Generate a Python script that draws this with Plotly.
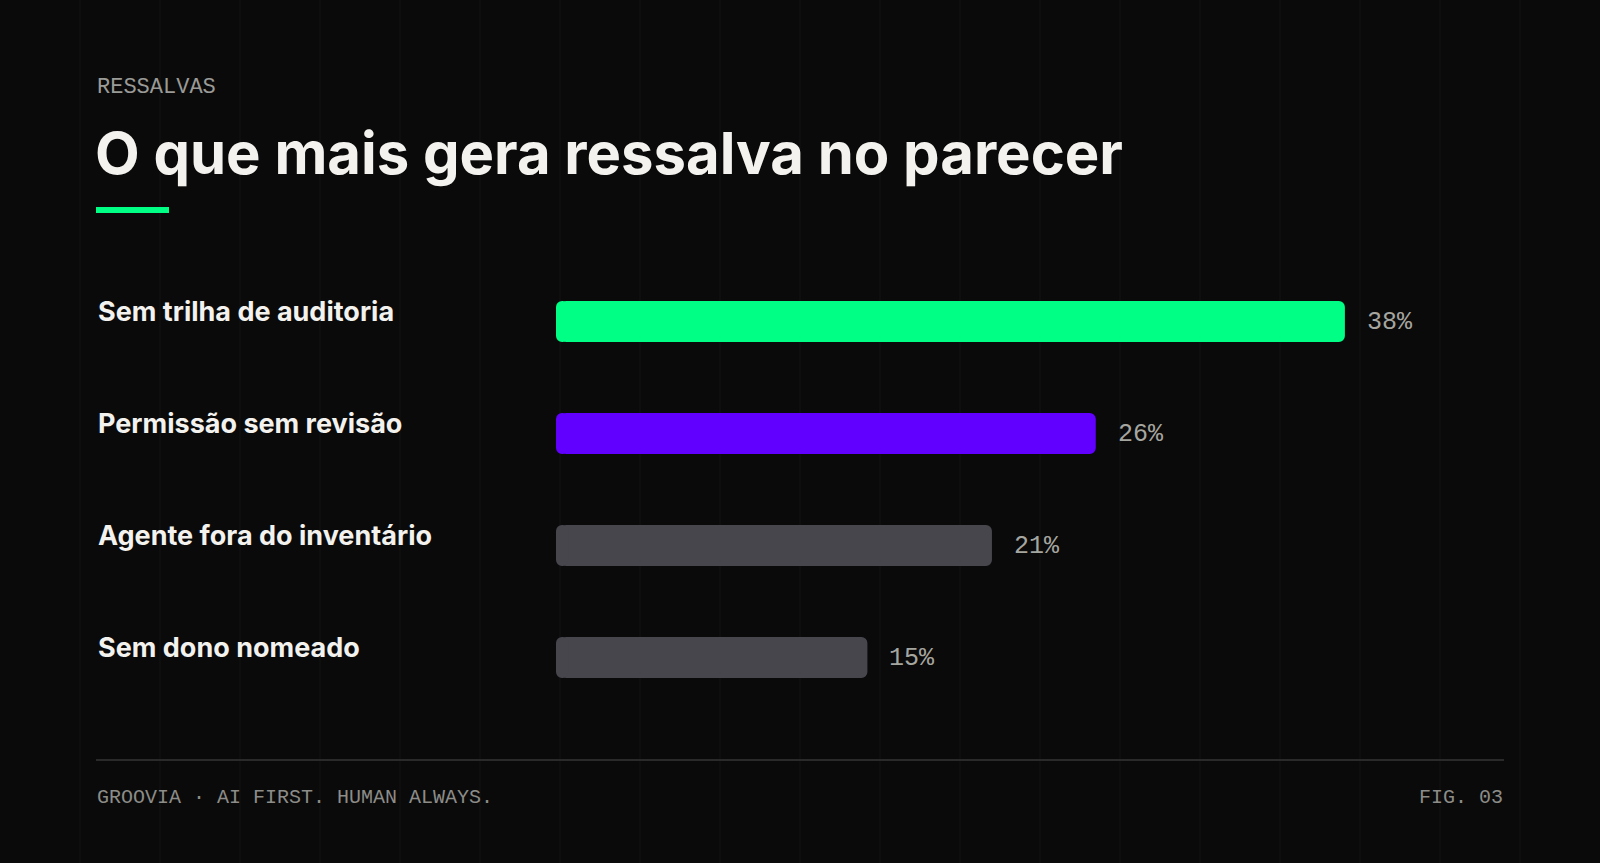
import plotly.graph_objects as go

# Dados do gráfico
categorias = [
    "Sem trilha de auditoria",
    "Permissão sem revisão",
    "Agente fora do inventário",
    "Sem dono nomeado",
]
percentuais = [38, 26, 21, 15]
cores = ["#00ff85", "#6100ff", "#47464c", "#47464c"]
rotulos = [f"{v}%" for v in percentuais]

kicker = "RESSALVAS"
titulo = "O que mais gera ressalva no parecer"
rodape_esq = "GROOVIA · AI FIRST. HUMAN ALWAYS."
rodape_dir = "FIG. 03"

W, H = 1600, 863
BG = "#0a0a0a"
SANS = "Inter, 'Noto Sans', sans-serif"
MONO = "'Liberation Mono', 'DejaVu Sans Mono', monospace"

# arredondar as duas pontas: um trecho curto para a esquerda + o resto para a direita
PONTA = 0.6

fig = go.Figure()
fig.add_trace(
    go.Bar(
        y=categorias,
        x=[v - 0.2 for v in percentuais],
        base=0.2,
        orientation="h",
        marker=dict(color=cores, line_width=0, cornerradius=6),
        width=0.366,
        hoverinfo="skip",
    )
)
fig.add_trace(
    go.Bar(
        y=categorias,
        x=[-PONTA] * len(categorias),
        base=PONTA,
        orientation="h",
        marker=dict(color=cores, line_width=0, cornerradius=6),
        width=0.366,
        hoverinfo="skip",
    )
)

# rótulos das categorias e dos valores
for cat, txt, v in zip(categorias, rotulos, percentuais):
    fig.add_annotation(
        x=96 / W, xref="paper", y=cat, yref="y",
        text=f"<b>{cat}</b>", showarrow=False,
        xanchor="left", yanchor="middle", yshift=10,
        font=dict(family=SANS, size=27, color="#f3f2ee"),
    )
    fig.add_annotation(
        x=v, y=cat, text=txt, showarrow=False,
        xanchor="left", yanchor="middle", xshift=20, yshift=-1,
        font=dict(family=MONO, size=25, color="#a6a6a0"),
    )

# cabeçalho
fig.add_annotation(
    x=95 / W, y=1 - 87 / H, xref="paper", yref="paper",
    text=kicker, showarrow=False, xanchor="left", yanchor="middle",
    font=dict(family=MONO, size=22, color="#9a9a96"),
)
fig.add_annotation(
    x=93 / W, y=1 - 153 / H, xref="paper", yref="paper",
    text=f"<b>{titulo}</b>", showarrow=False, xanchor="left", yanchor="middle",
    font=dict(family=SANS, size=58, color="#f3f2ee"),
)

# rodapé
fig.add_annotation(
    x=95 / W, y=1 - 797 / H, xref="paper", yref="paper",
    text=rodape_esq, showarrow=False, xanchor="left", yanchor="middle",
    font=dict(family=MONO, size=20, color="#8c8c88"),
)
fig.add_annotation(
    x=1505 / W, y=1 - 797 / H, xref="paper", yref="paper",
    text=rodape_dir, showarrow=False, xanchor="right", yanchor="middle",
    font=dict(family=MONO, size=20, color="#8c8c88"),
)

# grade de fundo (linhas verticais a cada 80 px), traço verde e linha do rodapé
shapes = [
    dict(type="line", xref="paper", yref="paper", x0=k / 20, x1=k / 20,
         y0=0, y1=1, line=dict(color="#121212", width=1), layer="below")
    for k in range(1, 20)
]
shapes.append(dict(type="rect", xref="paper", yref="paper",
                   x0=96 / W, x1=169 / W, y0=1 - 213 / H, y1=1 - 207 / H,
                   fillcolor="#00ff85", line_width=0))
shapes.append(dict(type="line", xref="paper", yref="paper",
                   x0=96 / W, x1=1504 / W, y0=1 - 760 / H, y1=1 - 760 / H,
                   line=dict(color="#2a2a2a", width=2)))

fig.update_layout(
    width=W, height=H,
    margin=dict(l=0, r=0, t=0, b=0),
    paper_bgcolor=BG, plot_bgcolor="rgba(0,0,0,0)",
    barmode="overlay",
    showlegend=False,
    shapes=shapes,
    xaxis=dict(domain=[556 / W, 1504 / W], range=[0, 948 / 20.76],
               visible=False, fixedrange=True),
    yaxis=dict(domain=[1 - 713.5 / H, 1 - 265.5 / H], range=[3.5, -0.5],
               visible=False, fixedrange=True),
)

fig.write_html(
    "out.html",
    config={"displayModeBar": False},
    post_script="document.body.style.margin='0';document.body.style.background='#0a0a0a';",
)
